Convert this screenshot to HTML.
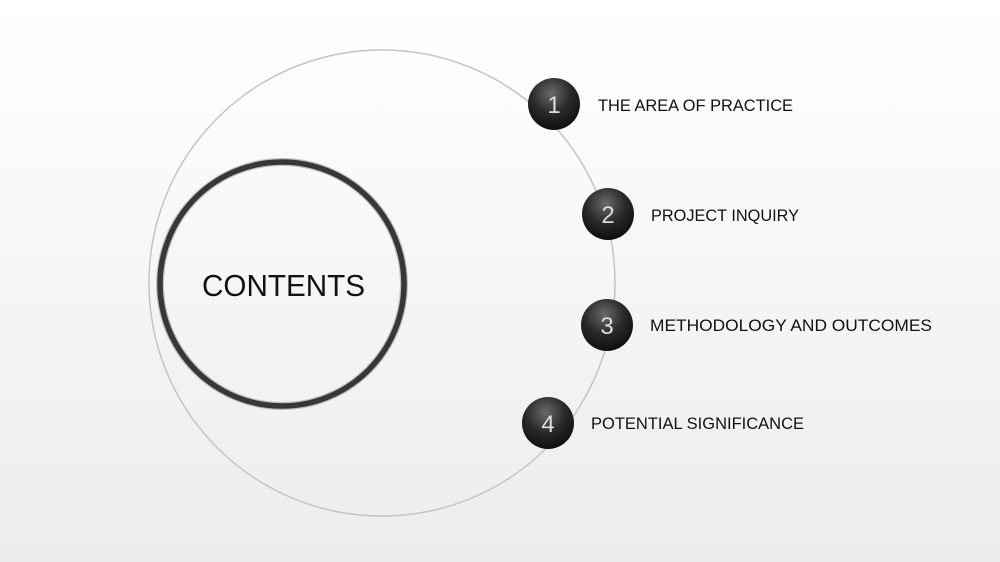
<!DOCTYPE html>
<html><head><style>
html,body{margin:0;padding:0}
body{width:1000px;height:562px;overflow:hidden;background:linear-gradient(#ffffff,#ececec);font-family:"Liberation Sans",sans-serif}
</style></head><body>
<svg width="1000" height="562" xmlns="http://www.w3.org/2000/svg" style="position:absolute;left:0;top:0">
<defs>
<radialGradient id="g" cx="0.45" cy="0.3" r="0.75">
<stop offset="0" stop-color="#6a6a6a"/><stop offset="0.5" stop-color="#2a2a2a"/><stop offset="1" stop-color="#0a0a0a"/>
</radialGradient>
</defs>
<circle cx="382" cy="283" r="233" fill="none" stroke="#c4c4c4" stroke-width="1.5"/>
<circle cx="282" cy="284" r="122" fill="none" stroke="#8a8a8a" stroke-width="8" opacity="0.5"/>
<circle cx="282" cy="284" r="122" fill="none" stroke="#3a3636" stroke-width="5.5"/>
<text x="202" y="296" textLength="163" lengthAdjust="spacingAndGlyphs" font-size="31" fill="#111" font-family="Liberation Sans, sans-serif">CONTENTS</text>
<g font-family="Liberation Sans, sans-serif">
<circle cx="554" cy="104" r="26" fill="url(#g)"/>
<text x="554" y="113" text-anchor="middle" font-size="24" fill="#ddd">1</text>
<text x="598" y="111" font-size="17" fill="#111" textLength="195" lengthAdjust="spacingAndGlyphs">THE AREA OF PRACTICE</text>
<circle cx="608" cy="214" r="26" fill="url(#g)"/>
<text x="608" y="223" text-anchor="middle" font-size="24" fill="#ddd">2</text>
<text x="651" y="221" font-size="17" fill="#111" textLength="148" lengthAdjust="spacingAndGlyphs">PROJECT INQUIRY</text>
<circle cx="607" cy="325" r="26" fill="url(#g)"/>
<text x="607" y="334" text-anchor="middle" font-size="24" fill="#ddd">3</text>
<text x="650" y="331" font-size="17" fill="#111" textLength="282" lengthAdjust="spacingAndGlyphs">METHODOLOGY AND OUTCOMES</text>
<circle cx="548" cy="423" r="26" fill="url(#g)"/>
<text x="548" y="432" text-anchor="middle" font-size="24" fill="#ddd">4</text>
<text x="591" y="429" font-size="17" fill="#111" textLength="213" lengthAdjust="spacingAndGlyphs">POTENTIAL SIGNIFICANCE</text>
</g>
</svg>
</body></html>
